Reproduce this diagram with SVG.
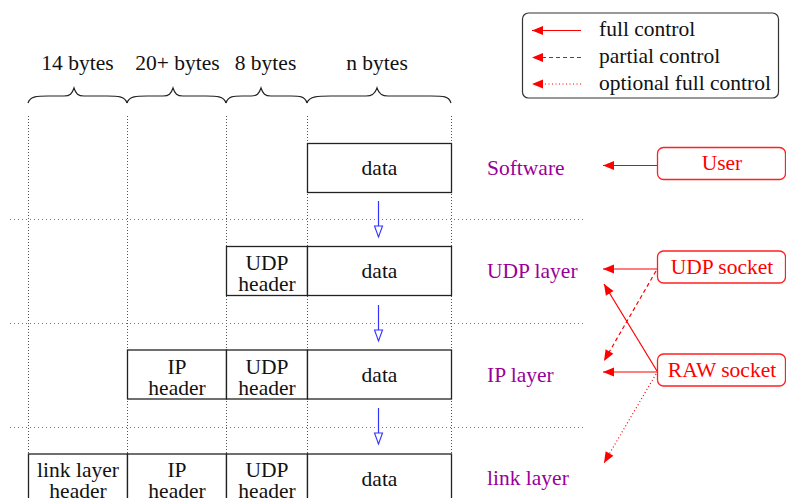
<svg xmlns="http://www.w3.org/2000/svg" width="786" height="498" viewBox="0 0 786 498">
  <style>
    .t { font-family: "Liberation Serif", "Times New Roman", serif; font-size: 21.5px; fill: #111; }
    .c { text-anchor: middle; }
    .box { fill: #fff; stroke: #222; stroke-width: 1.3; }
    .vgrid { stroke: #555; stroke-width: 1; stroke-dasharray: 1 2; fill: none; }
    .hgrid { stroke: #c040c0; stroke-width: 1; stroke-dasharray: 1 3; fill: none; }
    .brace { stroke: #222; stroke-width: 1.2; fill: none; }
    .t.layer { fill: #990099; }
    .t.red { fill: #ff0000; }
    .rbox { fill: #fff; stroke: #ff2020; stroke-width: 1.3; }
    .full { stroke: #ff0000; stroke-width: 1.2; fill: none; marker-end: url(#rh); }
    .partial { stroke: #ff0000; stroke-width: 1.2; fill: none; stroke-dasharray: 4 3; marker-end: url(#rh); }
    .opt { stroke: #ff0000; stroke-width: 1.2; fill: none; stroke-dasharray: 1 2.5; marker-end: url(#rh); }
    .flow { stroke: #3333ff; stroke-width: 1.2; fill: none; marker-end: url(#bh); }
  </style>
  <defs>
    <marker id="rh" markerUnits="userSpaceOnUse" markerWidth="12" markerHeight="10" refX="11" refY="4.5" orient="auto" overflow="visible">
      <path d="M0,0 L11,4.5 L0,9 z" fill="#ff0000"/>
    </marker>
    <marker id="bh" markerUnits="userSpaceOnUse" markerWidth="12" markerHeight="10" refX="11" refY="4" orient="auto" overflow="visible">
      <path d="M0,0 L11,4 L0,8 z" fill="#fff" stroke="#3333ff" stroke-width="1.1"/>
    </marker>
  </defs>

  <!-- field widths -->
  <g id="widths">
    <text class="t c" x="77.5" y="70">14 bytes</text>
    <text class="t c" x="177.5" y="70">20+ bytes</text>
    <text class="t c" x="265.5" y="70">8 bytes</text>
    <text class="t c" x="377" y="70">n bytes</text>
    <path class="brace" d="M28,103 C30,96 38,96 48,96 L64,96 C70,96 72,94 74,88 C76,94 78,96 84,96 L107,96 C117,96 125,96 127,103"/>
    <path class="brace" d="M127,103 C129,96 137,96 147,96 L163,96 C169,96 171,94 173,88 C175,94 177,96 183,96 L206,96 C216,96 224,96 226,103"/>
    <path class="brace" d="M226,103 C228,96 234,96 242,96 L251,96 C257,96 259,94 261,88 C263,94 265,96 271,96 L291,96 C299,96 305,96 307,103"/>
    <path class="brace" d="M307,103 C309,96 319,96 331,96 L366,96 C372,96 375,94 377,88 C379,94 382,96 388,96 L431,96 C443,96 449,96 451,103"/>
  </g>

  <!-- column guides and layer separators -->
  <g id="grid">
    <path class="vgrid" d="M28.5,116 V498 M127.5,116 V498 M226.5,116 V498 M307.5,116 V498 M451.5,116 V498"/>
    <path class="hgrid" d="M10,219.5 H583 M10,323.5 H583 M10,427.5 H583"/>
  </g>

  <!-- packet rows -->
  <g id="row-software">
    <rect class="box" x="307.5" y="143.5" width="144" height="49"/>
    <text class="t c" x="379.5" y="175">data</text>
  </g>
  <g id="row-udp">
    <rect class="box" x="226.5" y="246.5" width="81" height="49"/>
    <text class="t c" x="267" y="270">UDP</text>
    <text class="t c" x="267" y="291">header</text>
    <rect class="box" x="307.5" y="246.5" width="144" height="49"/>
    <text class="t c" x="379.5" y="278">data</text>
  </g>
  <g id="row-ip">
    <rect class="box" x="127.5" y="350" width="99" height="49"/>
    <text class="t c" x="177" y="373.5">IP</text>
    <text class="t c" x="177" y="394.5">header</text>
    <rect class="box" x="226.5" y="350" width="81" height="49"/>
    <text class="t c" x="267" y="373.5">UDP</text>
    <text class="t c" x="267" y="394.5">header</text>
    <rect class="box" x="307.5" y="350" width="144" height="49"/>
    <text class="t c" x="379.5" y="381.5">data</text>
  </g>
  <g id="row-link">
    <rect class="box" x="28.5" y="454" width="99" height="60"/>
    <text class="t c" x="78" y="477">link layer</text>
    <text class="t c" x="78" y="498">header</text>
    <rect class="box" x="127.5" y="454" width="99" height="60"/>
    <text class="t c" x="177" y="477">IP</text>
    <text class="t c" x="177" y="498">header</text>
    <rect class="box" x="226.5" y="454" width="81" height="60"/>
    <text class="t c" x="267" y="477">UDP</text>
    <text class="t c" x="267" y="498">header</text>
    <rect class="box" x="307.5" y="454" width="144" height="60"/>
    <text class="t c" x="379.5" y="485.5">data</text>
  </g>

  <!-- layer names -->
  <g id="layers">
    <text class="t layer" x="487" y="175">Software</text>
    <text class="t layer" x="487" y="278">UDP layer</text>
    <text class="t layer" x="487" y="382">IP layer</text>
    <text class="t layer" x="487" y="485">link layer</text>
  </g>

  <!-- control sources -->
  <g id="user">
    <rect class="rbox" x="657.5" y="147.5" width="128" height="32" rx="6"/>
    <text class="t c red" x="722" y="169.5">User</text>
  </g>
  <g id="udp-socket">
    <rect class="rbox" x="657.5" y="251" width="128" height="32" rx="6"/>
    <text class="t c red" x="722" y="273.5">UDP socket</text>
  </g>
  <g id="raw-socket">
    <rect class="rbox" x="657.5" y="354" width="128" height="32" rx="6"/>
    <text class="t c red" x="722" y="377">RAW socket</text>
  </g>

  <!-- legend -->
  <g id="legend">
    <rect x="522.5" y="13" width="256" height="85" rx="6" fill="#fff" stroke="#333" stroke-width="1.2"/>
    <path class="full" d="M581,30.5 H532"/>
    <path class="partial" d="M581,57.5 H532"/>
    <path class="opt" d="M581,84 H532"/>
    <text class="t" x="599" y="36">full control</text>
    <text class="t" x="599" y="63">partial control</text>
    <text class="t" x="599" y="90">optional full control</text>
  </g>

  <!-- connectors -->
  <g id="connectors">
    <path class="flow" d="M378.5,201 V237"/>
    <path class="flow" d="M378.5,305 V341"/>
    <path class="flow" d="M378.5,408 V444"/>
    <path class="full" d="M657,165.5 H603"/>
    <path class="full" d="M657,269 H603"/>
    <path class="partial" d="M656,271 L604,361"/>
    <path class="full" d="M657,372 H603"/>
    <path class="full" d="M657,371 L604,284"/>
    <path class="opt" d="M656,374 L604,463"/>
  </g>
</svg>
